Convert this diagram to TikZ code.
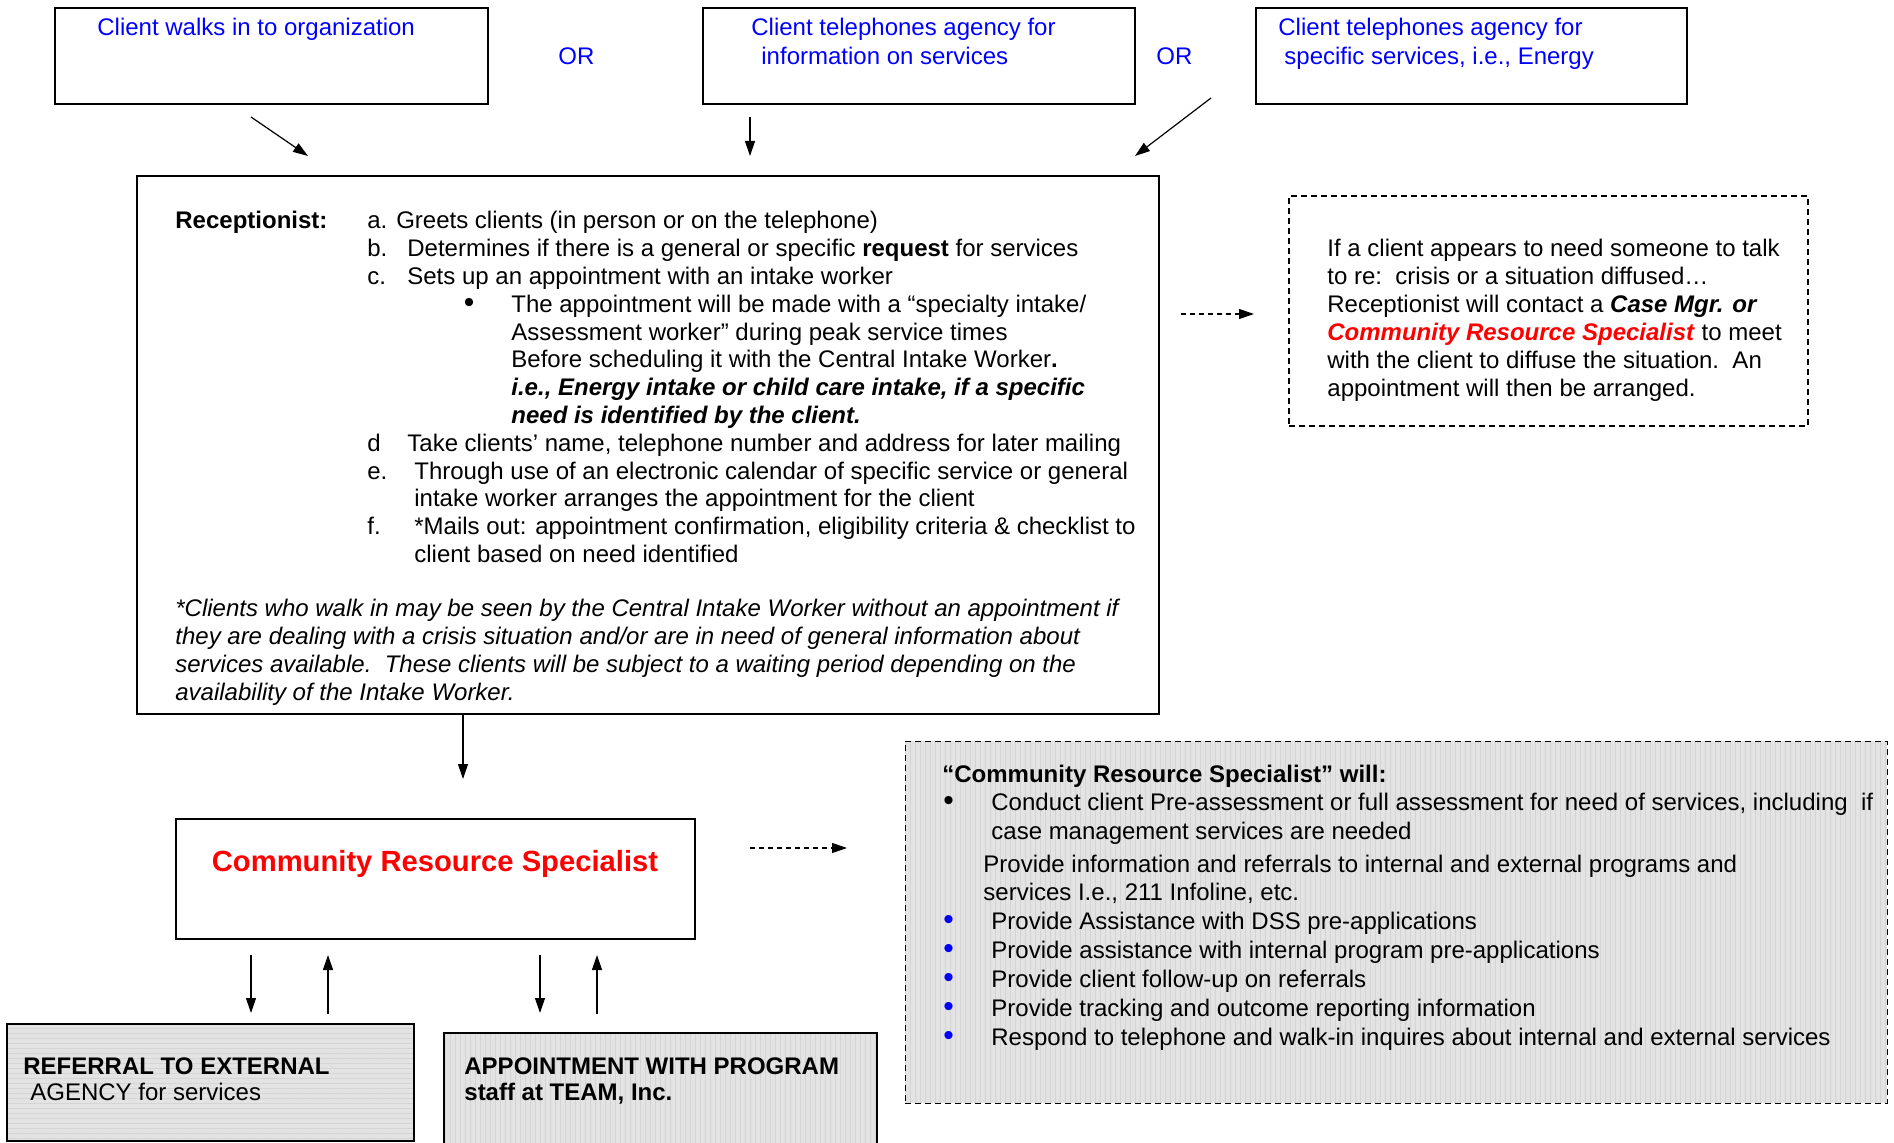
\documentclass[tikz,border=0pt]{standalone}
\usepackage{fontspec}
\setmainfont{Liberation Sans}
\usepackage{xcolor}
\usetikzlibrary{arrows.meta,positioning,calc,patterns.meta}
\definecolor{agblue}{HTML}{0000FF}
\definecolor{agred}{HTML}{FF0000}
\definecolor{shade}{HTML}{E3E3E3}
\definecolor{shadeline}{HTML}{D4D4D4}
\newcommand{\bigbul}{{\fontsize{15}{13.8}\selectfont\textbullet}}
\tikzset{
    every picture/.style={line join=miter},
    plainbox/.style={draw=black,line width=1pt,inner sep=0pt,anchor=north west},
    dashbox/.style={draw=black,line width=0.8pt,dash pattern=on 3pt off 2pt,
      inner sep=0pt,anchor=north west},
    shadefill/.style={preaction={fill=shade},
      pattern={Lines[angle=#1,distance=2.5pt,line width=0.35pt]},pattern color=shadeline},
    shadefill/.default=90,
    txt/.style={inner sep=0pt,anchor=base west,font=\fontsize{12}{13.8}\selectfont},
    bluetxt/.style={txt,text=agblue},
    flowarrow/.style={-{Triangle[length=7.5pt,width=5pt]},line width=0.6pt},
    dasharrow/.style={flowarrow,dash pattern=on 2.5pt off 2pt}
}

\begin{document}
\begin{tikzpicture}[x=0.5pt,y=-0.5pt]
  \useasboundingbox (0,0) rectangle (1894,1143);
  % how the client reaches the agency
  \node[plainbox,minimum width=216.5pt,minimum height=48pt] (walk) at (54,7) {};
  \node[plainbox,minimum width=216pt,minimum height=48pt] (telinfo) at (702,7) {};
  \node[plainbox,minimum width=215.5pt,minimum height=48pt] (telspec) at (1255,7) {};
  \node[bluetxt] (walklbl) at (97,36) {Client walks in to organization};
  \node[bluetxt] (or1) at (558,65) {OR};
  \node[bluetxt] (infolbl1) at (751,36) {Client telephones agency for};
  \node[bluetxt] (infolbl2) at (761,65) {information on services};
  \node[bluetxt] (or2) at (1156,65) {OR};
  \node[bluetxt] (speclbl1) at (1278,36) {Client telephones agency for};
  \node[bluetxt] (speclbl2) at (1284,65) {specific services, i.e., Energy};

  % receptionist
  \node[plainbox,minimum width=511pt,minimum height=269pt] (recep) at (136,175) {};
  \node[txt,font=\fontsize{12}{13.8}\selectfont\bfseries] (reclbl) at (175,229) {Receptionist:};
  \foreach \t [count=\i from 0] in {
    {a. Greets clients (in person or on the telephone)},
    {\makebox[20pt][l]{b.}Determines if there is a general or specific \textbf{request} for services},
    {\makebox[20pt][l]{c.}Sets up an appointment with an intake worker},
    {\hspace*{48.2pt}\makebox[23.8pt][l]{\bigbul}The appointment will be made with a “specialty intake/},
    {\hspace*{72pt}Assessment worker” during peak service times},
    {\hspace*{72pt}Before scheduling it with the Central Intake Worker\textbf{.}},
    {\hspace*{72pt}\textbf{\textit{i.e., Energy intake or child care intake, if a specific}}},
    {\hspace*{72pt}\textbf{\textit{need is identified by the client.}}},
    {\makebox[20pt][l]{d}Take clients’ name, telephone number and address for later mailing},
    {\makebox[23.5pt][l]{e.}Through use of an electronic calendar of specific service or general},
    {\hspace*{23.5pt}intake worker arranges the appointment for the client},
    {\makebox[23.5pt][l]{f.}*Mails out: appointment confirmation, eligibility criteria \& checklist to},
    {\hspace*{23.5pt}client based on need identified}}
    {\node[txt] (rl\i) at (367,229+27.8*\i) {\t};}
  \foreach \t [count=\i from 0] in {
    {*Clients who walk in may be seen by the Central Intake Worker without an appointment if},
    {they are dealing with a crisis situation and/or are in need of general information about},
    {services available.\ \ These clients will be subject to a waiting period depending on the},
    {availability of the Intake Worker.}}
    {\node[txt,font=\fontsize{12}{13.8}\selectfont\itshape] (il\i) at (175,617+27.8*\i) {\t};}

  % crisis note
  \node[dashbox,minimum width=259.5pt,minimum height=115pt] (crisis) at (1288,195) {};
  \foreach \t [count=\i from 0] in {
    {If a client appears to need someone to talk},
    {to re:\ \ crisis or a situation diffused…},
    {Receptionist will contact a \textbf{\textit{Case Mgr. or}}},
    {\textcolor{agred}{\textbf{\textit{Community Resource Specialist}}} to meet},
    {with the client to diffuse the situation.\ \ An},
    {appointment will then be arranged.}}
    {\node[txt] (nl\i) at (1327,257+27.9*\i) {\t};}

  % community resource specialist
  \node[plainbox,minimum width=259.5pt,minimum height=60pt] (crs) at (175,818) {};
  \node[inner sep=0pt,anchor=base,text=agred,font=\fontsize{14.6}{18}\selectfont\bfseries]
    (crslbl) at (435,871) {Community Resource Specialist};

  % duties
  \node[dashbox,shadefill,minimum width=491pt,minimum height=181pt] (duties) at (905,741) {};
  \node[txt,font=\fontsize{12}{13.8}\selectfont\bfseries] (dutlbl) at (942,782)
    {“Community Resource Specialist” will:};
  \node[txt] (db0) at (943,810) {\bigbul};
  \node[txt] (dt0) at (991,810) {Conduct client Pre-assessment or full assessment for need of services, including\ \ if};
  \node[txt] (dt1) at (991,839) {case management services are needed};
  \node[txt] (dt2) at (983,872) {Provide information and referrals to internal and external programs and};
  \node[txt] (dt3) at (983,900) {services I.e., 211 Infoline, etc.};
  \foreach \t [count=\i from 0] in {
    {Provide Assistance with DSS pre-applications},
    {Provide assistance with internal program pre-applications},
    {Provide client follow-up on referrals},
    {Provide tracking and outcome reporting information},
    {Respond to telephone and walk-in inquires about internal and external services}}
    {\node[bluetxt] (bb\i) at (943,929+29*\i) {\bigbul};
     \node[txt] (bt\i) at (991,929+29*\i) {\t};}

  % outcomes
  \node[plainbox,shadefill=0,minimum width=203.5pt,minimum height=58.5pt] (referral) at (7,1024) {};
  \node[txt,font=\fontsize{12}{13.8}\selectfont\bfseries] (reflbl1) at (23,1074) {REFERRAL TO EXTERNAL};
  \node[txt] (reflbl2) at (30,1100) {AGENCY for services};
  \node[plainbox,shadefill,minimum width=216.5pt,minimum height=70pt] (appt) at (443,1032) {};
  \node[txt,font=\fontsize{12}{13.8}\selectfont\bfseries] (apptlbl1) at (464,1074) {APPOINTMENT WITH PROGRAM};
  \node[txt,font=\fontsize{12}{13.8}\selectfont\bfseries] (apptlbl2) at (464,1100) {staff at TEAM, Inc.};

  % connectors
  \coordinate (w1) at (251,117); \coordinate (w2) at (308,156);
  \coordinate (t1) at (750,117); \coordinate (t2) at (750,156);
  \coordinate (s1) at (1211,98); \coordinate (s2) at (1135,156);
  \draw[flowarrow] (w1) -- (w2);
  \draw[flowarrow] (t1) -- (t2);
  \draw[flowarrow] (s1) -- (s2);
  \coordinate (r2c) at (463,779);
  \draw[flowarrow] (recep.south -| r2c) -- (r2c);
  \coordinate (n1) at (1181,314); \coordinate (n2) at (1254,314);
  \draw[dasharrow] (n1) -- (n2);
  \coordinate (d1) at (750,848); \coordinate (d2) at (847,848);
  \draw[dasharrow] (d1) -- (d2);
  \foreach \x/\d in {251/down,328/up,540/down,597/up}{
    \ifnum\pdfstrcmp{\d}{down}=0
      \draw[flowarrow] (\x,955) -- (\x,1013);
    \else
      \draw[flowarrow] (\x,1014) -- (\x,955);
    \fi}
\end{tikzpicture}
\end{document}
